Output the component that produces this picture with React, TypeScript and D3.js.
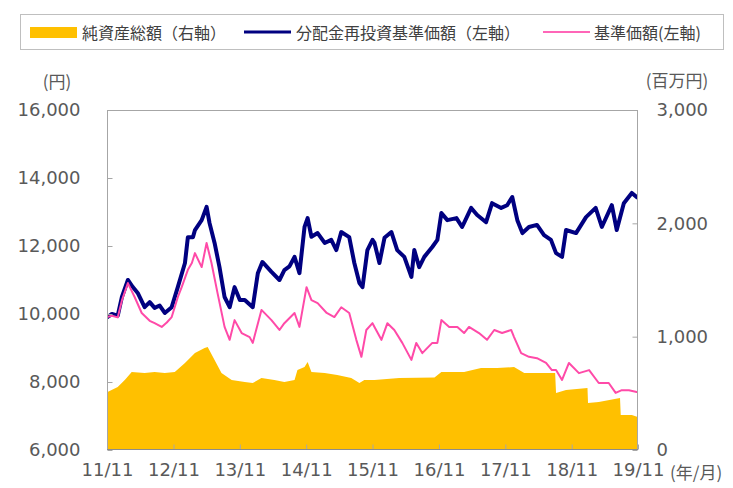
import * as React from 'react';
import * as d3 from 'd3';
import {useEffect, useRef} from 'react';

// 分配金再投資基準価額 (円, left axis)
const reinvestedNav: [string, number][] = [
    ['2011-11-01', 9900], ['2011-11-28', 10000], ['2011-12-30', 9950], ['2012-01-22', 10500], ['2012-02-24', 11000],
    ['2012-03-21', 10800], ['2012-04-18', 10620], ['2012-05-26', 10200], ['2012-06-23', 10350], ['2012-07-20', 10180],
    ['2012-08-17', 10250], ['2012-09-14', 10030], ['2012-10-22', 10200], ['2012-11-25', 10800], ['2013-01-03', 11500],
    ['2013-01-19', 12260], ['2013-02-16', 12260], ['2013-02-27', 12470], ['2013-04-05', 12760], ['2013-05-02', 13150],
    ['2013-05-18', 12680], ['2013-06-15', 12090], ['2013-07-12', 11380], ['2013-08-09', 10500], ['2013-09-06', 10200],
    ['2013-10-03', 10790], ['2013-11-01', 10410], ['2013-11-28', 10410], ['2014-01-11', 10200], ['2014-02-08', 11200],
    ['2014-03-05', 11530], ['2014-04-24', 11240], ['2014-06-07', 11000], ['2014-07-04', 11290], ['2014-08-01', 11400],
    ['2014-08-29', 11680], ['2014-09-25', 11200], ['2014-10-23', 12560], ['2014-11-09', 12820], ['2014-11-30', 12270],
    ['2015-01-03', 12380], ['2015-02-11', 12090], ['2015-03-19', 12180], ['2015-04-16', 11880], ['2015-05-13', 12410],
    ['2015-06-26', 12260], ['2015-07-24', 11500], ['2015-08-21', 10910], ['2015-09-07', 10790], ['2015-10-04', 11880],
    ['2015-11-01', 12180], ['2015-11-12', 12090], ['2015-12-09', 11500], ['2016-01-06', 12240], ['2016-02-13', 12410],
    ['2016-03-16', 11880], ['2016-04-24', 11680], ['2016-06-02', 11090], ['2016-06-18', 11880], ['2016-07-15', 11380],
    ['2016-08-12', 11680], ['2016-09-25', 11970], ['2016-10-23', 12180], ['2016-11-14', 12970], ['2016-12-17', 12760],
    ['2017-02-05', 12820], ['2017-03-08', 12560], ['2017-03-19', 12680], ['2017-04-27', 13120], ['2017-05-30', 12910],
    ['2017-07-18', 12700], ['2017-08-20', 13260], ['2017-10-09', 13120], ['2017-11-11', 13200], ['2017-12-09', 13440],
    ['2018-01-06', 12760], ['2018-02-03', 12380], ['2018-03-11', 12560], ['2018-04-24', 12620], ['2018-06-02', 12320],
    ['2018-07-10', 12180], ['2018-08-07', 11790], ['2018-09-09', 11680], ['2018-10-01', 12470], ['2018-11-25', 12380],
    ['2019-01-19', 12850], ['2019-03-13', 13120], ['2019-04-16', 12560], ['2019-06-10', 13200], ['2019-07-07', 12470],
    ['2019-08-15', 13260], ['2019-09-28', 13560], ['2019-10-31', 13410]
];

// 基準価額 (円, left axis)
const nav: [string, number][] = [
    ['2011-11-01', 9910], ['2011-11-28', 9950], ['2011-12-30', 9900], ['2012-01-22', 10400], ['2012-02-24', 10910],
    ['2012-04-01', 10500], ['2012-05-10', 10030], ['2012-06-23', 9800], ['2012-07-20', 9730], ['2012-08-28', 9620],
    ['2012-09-25', 9750], ['2012-10-22', 9910], ['2012-11-25', 10500], ['2012-12-16', 10790], ['2013-01-19', 11300],
    ['2013-02-10', 11500], ['2013-02-27', 11790], ['2013-04-05', 11380], ['2013-05-02', 12090], ['2013-05-29', 11500],
    ['2013-07-01', 10620], ['2013-08-09', 9620], ['2013-09-06', 9240], ['2013-10-03', 9820], ['2013-11-11', 9440],
    ['2013-12-25', 9320], ['2014-01-11', 9150], ['2014-02-28', 10120], ['2014-04-24', 9820], ['2014-06-07', 9530],
    ['2014-07-04', 9730], ['2014-08-29', 10030], ['2014-09-25', 9620], ['2014-11-03', 10790], ['2014-11-30', 10410],
    ['2015-01-03', 10320], ['2015-02-22', 10030], ['2015-04-05', 9910], ['2015-05-13', 10200], ['2015-06-26', 10030],
    ['2015-08-04', 9240], ['2015-09-01', 8740], ['2015-09-28', 9530], ['2015-11-01', 9730], ['2015-11-12', 9620],
    ['2015-12-20', 9240], ['2016-01-22', 9730], ['2016-02-29', 9530], ['2016-04-13', 9150], ['2016-06-02', 8650],
    ['2016-06-29', 9150], ['2016-08-01', 8850], ['2016-09-25', 9150], ['2016-10-23', 9150], ['2016-11-14', 9820],
    ['2016-12-27', 9620], ['2017-02-10', 9620], ['2017-03-19', 9440], ['2017-04-15', 9620], ['2017-06-09', 9440],
    ['2017-07-23', 9240], ['2017-09-01', 9530], ['2017-10-14', 9440], ['2017-12-03', 9530], ['2017-12-19', 9320],
    ['2018-01-27', 8850], ['2018-03-11', 8740], ['2018-04-24', 8700], ['2018-06-13', 8560], ['2018-07-15', 8350],
    ['2018-08-07', 8350], ['2018-09-09', 8060], ['2018-10-17', 8560], ['2018-12-11', 8260], ['2019-02-05', 8350],
    ['2019-03-30', 7970], ['2019-05-24', 7970], ['2019-07-01', 7680], ['2019-08-04', 7760], ['2019-09-12', 7760],
    ['2019-10-31', 7700]
];

// 純資産総額 (百万円, right axis)
const netAssets: [string, number][] = [
    ['2011-11-01', 510], ['2011-12-30', 556], ['2012-02-08', 620], ['2012-03-16', 688], ['2012-05-26', 679],
    ['2012-07-20', 688], ['2012-09-14', 679], ['2012-11-08', 688], ['2013-01-03', 767], ['2013-02-27', 856],
    ['2013-04-21', 900], ['2013-05-08', 908], ['2013-06-15', 794], ['2013-07-23', 679], ['2013-09-17', 617],
    ['2013-11-28', 600], ['2014-01-11', 591], ['2014-02-28', 635], ['2014-05-10', 617], ['2014-07-04', 600],
    ['2014-08-29', 617], ['2014-09-14', 706], ['2014-10-23', 732], ['2014-11-09', 776], ['2014-11-30', 688],
    ['2015-02-11', 679], ['2015-04-21', 662], ['2015-07-07', 635], ['2015-08-21', 591], ['2015-09-17', 617],
    ['2015-11-12', 617], ['2016-03-27', 635], ['2016-10-07', 640], ['2016-11-14', 688], ['2017-03-19', 688],
    ['2017-06-20', 723], ['2017-09-17', 723], ['2017-12-19', 732], ['2018-02-13', 679], ['2018-08-02', 679],
    ['2018-08-07', 503], ['2018-10-01', 529], ['2019-01-27', 547], ['2019-01-30', 414], ['2019-03-30', 423],
    ['2019-07-25', 459], ['2019-07-29', 309], ['2019-09-28', 309], ['2019-10-31', 291]
];

const xTickLabels = ['11/11', '12/11', '13/11', '14/11', '15/11', '16/11', '17/11', '18/11', '19/11'];
const leftTicks = [6000, 8000, 10000, 12000, 14000, 16000];
const rightTicks = [0, 1000, 2000, 3000];
const legendLabels = ['純資産総額（右軸）', '分配金再投資基準価額（左軸）', '基準価額(左軸)'];
const legendColors = ['#ffc000', '#000080', '#ff66b8'];

const chart = {width: 733, height: 488, left: 107, right: 638, top: 110, bottom: 450};
const axisFont = '"DejaVu Sans", Verdana, sans-serif';
const jpFont = '"Noto Sans CJK JP", sans-serif';

const parseDate = d3.timeParse('%Y-%m-%d');
const tickDates = xTickLabels.map((l) => new Date(2000 + +l.split('/')[0], +l.split('/')[1] - 1, 1));

function styleAxis(g: any) {
    g.select('.domain').remove();
    g.selectAll('line').attr('stroke', '#a6a6a6');
    g.selectAll('text').attr('fill', '#595959').style('font-family', axisFont).style('font-size', '18px');
}

function drawLegend(svg: any) {
    const g = svg.append('g');
    g.append('rect').attr('x', 20.5).attr('y', 14.5).attr('width', 703).attr('height', 35)
        .attr('fill', '#fff').attr('stroke', '#bfbfbf');
    const markX = [30, 244, 543];
    const textX = [82, 296, 594];
    g.append('rect').attr('x', markX[0]).attr('y', 27).attr('width', 47).attr('height', 11).attr('fill', legendColors[0]);
    g.append('line').attr('x1', markX[1]).attr('x2', markX[1] + 47).attr('y1', 32).attr('y2', 32)
        .attr('stroke', legendColors[1]).attr('stroke-width', 3);
    g.append('line').attr('x1', markX[2]).attr('x2', markX[2] + 47).attr('y1', 32).attr('y2', 32)
        .attr('stroke', legendColors[2]).attr('stroke-width', 2);
    legendLabels.forEach((label, i) => {
        g.append('text').attr('x', textX[i]).attr('y', 32).attr('dominant-baseline', 'central')
            .attr('fill', '#404040').style('font-family', jpFont).style('font-size', '16px').text(label);
    });
}

function drawChart(svgEl: SVGSVGElement) {
    const svg = d3.select(svgEl);
    svg.selectAll('*').remove();

    const x = d3.scaleTime().domain([tickDates[0], tickDates[tickDates.length - 1]]).range([chart.left, chart.right]);
    const yLeft = d3.scaleLinear().domain([6000, 16000]).range([chart.bottom, chart.top]);
    const yRight = d3.scaleLinear().domain([0, 3000]).range([chart.bottom, chart.top]);

    svg.append('clipPath').attr('id', 'plot-clip').append('rect')
        .attr('x', chart.left).attr('y', chart.top)
        .attr('width', chart.right - chart.left).attr('height', chart.bottom - chart.top);

    const plot = svg.append('g').attr('clip-path', 'url(#plot-clip)');

    const area = d3.area<[string, number]>()
        .x((d) => x(parseDate(d[0]) as Date))
        .y0(yRight(0))
        .y1((d) => yRight(d[1]));
    plot.append('path').datum(netAssets).attr('d', area).attr('fill', legendColors[0]);

    const line = d3.line<[string, number]>()
        .x((d) => x(parseDate(d[0]) as Date))
        .y((d) => yLeft(d[1]));
    plot.append('path').datum(reinvestedNav).attr('d', line).attr('fill', 'none')
        .attr('stroke', legendColors[1]).attr('stroke-width', 4).attr('stroke-linejoin', 'round');
    plot.append('path').datum(nav).attr('d', line).attr('fill', 'none')
        .attr('stroke', '#ff4aa8').attr('stroke-width', 2).attr('stroke-linejoin', 'round');

    // plot border
    svg.append('rect').attr('x', chart.left + 0.5).attr('y', chart.top + 0.5)
        .attr('width', chart.right - chart.left - 1).attr('height', chart.bottom - chart.top - 1)
        .attr('fill', 'none').attr('stroke', '#a6a6a6');

    const leftAxis = svg.append('g').attr('transform', `translate(${chart.left + 0.5},0)`)
        .call(d3.axisLeft(yLeft).tickValues(leftTicks).tickSize(-5).tickPadding(27).tickFormat(d3.format(',')));
    styleAxis(leftAxis);

    const rightAxis = svg.append('g').attr('transform', `translate(${chart.right - 0.5},0)`)
        .call(d3.axisRight(yRight).tickValues(rightTicks).tickSize(-5).tickPadding(19).tickFormat(d3.format(',')));
    styleAxis(rightAxis);

    const bottomAxis = svg.append('g').attr('transform', `translate(0,${chart.bottom - 0.5})`)
        .call(d3.axisBottom(x).tickValues(tickDates).tickSize(-5).tickPadding(14)
            .tickFormat((d: any, i: number) => xTickLabels[i]));
    styleAxis(bottomAxis);
    bottomAxis.append('line').attr('x1', chart.left).attr('x2', chart.right).attr('stroke', '#8c8c8c');

    svg.append('text').attr('x', 57).attr('y', 80).attr('text-anchor', 'middle').attr('dominant-baseline', 'central')
        .attr('fill', '#595959').style('font-family', jpFont).style('font-size', '17px').text('(円)');
    svg.append('text').attr('x', 677).attr('y', 79).attr('text-anchor', 'middle').attr('dominant-baseline', 'central')
        .attr('fill', '#595959').style('font-family', jpFont).style('font-size', '17px').text('(百万円)');
    svg.append('text').attr('x', 670).attr('y', 471).attr('dominant-baseline', 'central')
        .attr('fill', '#595959').style('font-family', jpFont).style('font-size', '17px').text('(年/月)');

    drawLegend(svg);
}

export default function App() {
    const svgRef = useRef<SVGSVGElement>(null);

    useEffect(() => {
        if (svgRef.current) {
            drawChart(svgRef.current);
        }
    }, []);

    return (
        <svg ref={svgRef} width={chart.width} height={chart.height} viewBox={`0 0 ${chart.width} ${chart.height}`}
             style={{position: 'absolute', left: 0, top: 0, background: '#fff'}}/>
    );
}
